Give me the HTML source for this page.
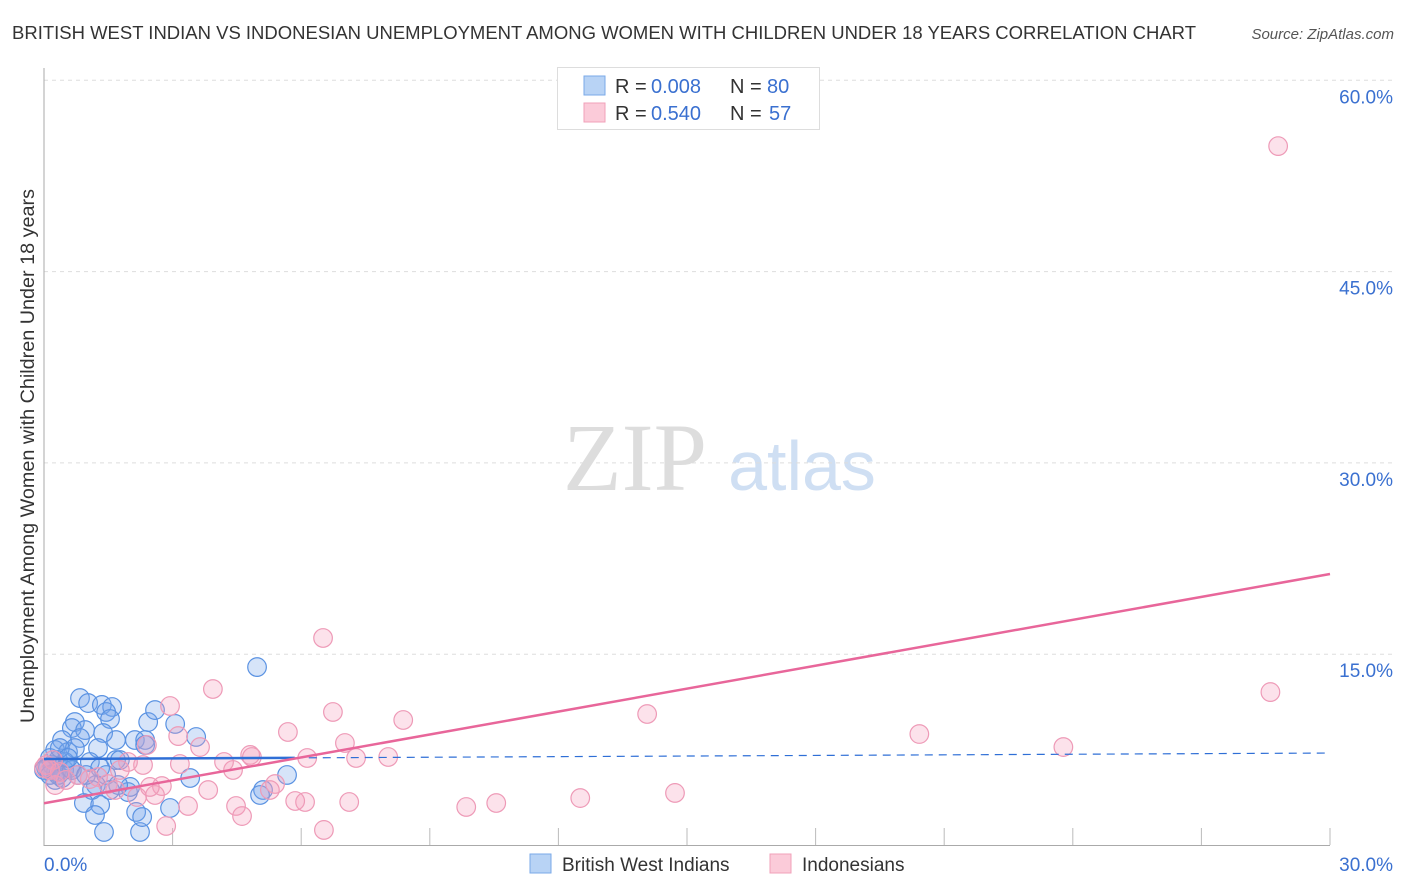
<!DOCTYPE html>
<html><head><meta charset="utf-8"><style>
body{margin:0;background:#fff;font-family:"Liberation Sans",sans-serif;}
svg{display:block}
</style></head><body>
<svg id="chart" width="1406" height="892" xmlns="http://www.w3.org/2000/svg">
<text x="12" y="39" font-size="18.5" fill="#333" textLength="1184" lengthAdjust="spacingAndGlyphs">BRITISH WEST INDIAN VS INDONESIAN UNEMPLOYMENT AMONG WOMEN WITH CHILDREN UNDER 18 YEARS CORRELATION CHART</text>
<text x="1394" y="39" font-size="15" fill="#555" font-style="italic" text-anchor="end">Source: ZipAtlas.com</text>
<text x="34" y="456" font-size="19" fill="#333" text-anchor="middle" textLength="534" lengthAdjust="spacingAndGlyphs" transform="rotate(-90 34 456)">Unemployment Among Women with Children Under 18 years</text>
<g>
<text x="635" y="490" font-size="96" font-family="Liberation Serif,serif" fill="#ddd" text-anchor="middle">ZIP</text>
<text x="802" y="490" font-size="70" fill="#cfdff3" text-anchor="middle">atlas</text>
</g>
<g id="grid"></g><g id="axes"></g><g id="pts"></g><g id="lines"></g>
<g>
<rect x="557.5" y="67.5" width="262" height="62" fill="#fff" stroke="#ddd"/>
<rect x="584" y="76" width="21" height="19" fill="#b8d3f5" stroke="#7aa9e8"/>
<rect x="584" y="103" width="21" height="19" fill="#fbcbd9" stroke="#f0a0b9"/>
<text x="615" y="93" font-size="20" fill="#333">R =</text>
<text x="651" y="93" font-size="20" fill="#3a70d0">0.008</text>
<text x="730" y="93" font-size="20" fill="#333">N =</text>
<text x="767" y="93" font-size="20" fill="#3a70d0">80</text>
<text x="615" y="120" font-size="20" fill="#333">R =</text>
<text x="651" y="120" font-size="20" fill="#3a70d0">0.540</text>
<text x="730" y="120" font-size="20" fill="#333">N =</text>
<text x="769" y="120" font-size="20" fill="#3a70d0">57</text>
</g>
<g>
<rect x="530" y="854" width="21" height="19" fill="#b8d3f5" stroke="#7aa9e8"/>
<text x="562" y="871" font-size="19" fill="#333">British West Indians</text>
<rect x="770" y="854" width="21" height="19" fill="#fbcbd9" stroke="#f0a0b9"/>
<text x="802" y="871" font-size="19" fill="#333">Indonesians</text>
</g>
</svg>
<script>
const yTicks=[15,30,45,60];
const yTickLabels=["15.0%","30.0%","45.0%","60.0%"];
const xEndLabels=["0.0%","30.0%"];
const blueX=[0.84,1.03,1.35,1.59,1.45,1.54,0.72,0.65,0.96,0.84,1.38,1.68,1.26,0.42,0.26,0.56,0.72,0.33,0.09,0.19,0.47,0.61,1.07,1.31,1.68,2.12,2.36,2.43,2.59,3.06,3.55,3.41,1.45,1.21,1.12,0.93,1.31,1.19,1.40,2.24,2.15,2.29,2.94,1.96,2.01,4.97,5.67,5.11,5.04,0.26,0.42,0.79,1.77,0.49,0.14,0.28,0.05,0.37,0,0.33,0.65,0.98,1.54,1.73,2.36,0.14,0.56];
const blueY=[11.56,11.17,11.02,10.86,10.47,9.92,9.68,9.21,9.05,8.43,8.82,8.27,7.64,8.27,7.49,7.33,7.64,6.70,6.08,6.31,5.92,6.08,6.55,6.08,6.70,8.27,8.27,9.68,10.62,9.53,8.51,5.29,5.53,4.74,4.35,3.33,3.18,2.39,1.06,1.06,2.63,2.23,2.94,4.19,4.59,13.99,5.53,4.35,3.96,5.14,5.29,5.53,6.70,6.55,6.86,5.76,6.08,7.64,5.92,5.53,5.92,5.53,4.35,4.74,7.88,5.53,6.86];
const pinkX=[28.79,28.61,23.78,20.42,14.07,14.72,12.51,10.55,9.85,8.38,8.03,7.28,7.02,7.12,6.74,6.51,6.53,6.14,6.09,5.86,5.69,5.39,5.27,4.81,4.85,4.41,4.20,3.94,3.83,3.64,3.13,2.94,3.36,2.85,2.75,2.59,2.31,2.40,2.17,1.96,1.77,1.49,1.66,1.26,1.07,0.79,0.51,0.26,0.37,0.14,0.05,0.21,0,2.47,4.48,4.62,3.17];
const pinkY=[54.84,12.03,7.72,8.74,10.31,4.12,3.72,3.33,3.02,9.84,6.94,6.86,8.04,3.41,10.47,16.27,1.22,6.86,3.41,3.49,8.90,4.82,4.35,7.10,6.94,5.92,6.55,12.27,4.35,7.72,8.58,10.94,3.10,1.53,4.66,3.96,6.31,7.88,3.80,6.55,5.92,4.82,4.35,5.37,5.21,5.53,5.14,4.74,5.76,5.92,6.31,6.70,6.08,4.59,3.10,2.31,6.39];
const blueTrend=[6.78,7.25], pinkTrend=[3.31,21.29], blueSolidEnd=5.85;
const NS="http://www.w3.org/2000/svg";
const X=v=>44+v/30*1286, Y=v=>845.5-v/15*191.3;
function mk(t,a,p){const e=document.createElementNS(NS,t);for(const k in a)e.setAttribute(k,a[k]);document.getElementById(p).appendChild(e);return e;}
yTicks.forEach((t,i)=>{
 const l=mk('line',{x1:44,x2:1394,y1:Y(t),y2:Y(t),stroke:'#ddd','stroke-dasharray':'4,4'},'grid');
 
 
 const tx=mk('text',{x:1393,y:Y(t)+23,'font-size':19,fill:'#3a70d0','text-anchor':'end'},'grid');tx.textContent=yTickLabels[i];
 
 
});
mk('line',{x1:44,x2:44,y1:68,y2:846,stroke:'#aaa'},'axes');
mk('line',{x1:44,x2:1330,y1:845.5,y2:845.5,stroke:'#aaa'},'axes');
for(let i=1;i<=10;i++){const l=mk('line',{x1:X(i*3),x2:X(i*3),y1:828,y2:845,stroke:'#bbb'},'axes');
 
 }
let t0=mk('text',{x:44,y:871,'font-size':19,fill:'#3a70d0'},'axes');t0.textContent=xEndLabels[0];


let t1=mk('text',{x:1393,y:871,'font-size':19,fill:'#3a70d0','text-anchor':'end'},'axes');t1.textContent=xEndLabels[1];


blueX.forEach((x,i)=>{const c=mk('circle',{cx:X(x),cy:Y(blueY[i]),r:9.3,fill:'rgba(120,165,235,0.3)',stroke:'#5a92e2','stroke-width':1.2},'pts');
 
 });
pinkX.forEach((x,i)=>{const c=mk('circle',{cx:X(x),cy:Y(pinkY[i]),r:9.3,fill:'rgba(245,160,190,0.3)',stroke:'#ee9ab7','stroke-width':1.2},'pts');
 
 });
const bAt=x=>blueTrend[0]+(blueTrend[1]-blueTrend[0])*x/30;
let b1=mk('line',{x1:X(0),y1:Y(bAt(0)),x2:X(blueSolidEnd),y2:Y(bAt(blueSolidEnd)),stroke:'#2f6fd6','stroke-width':2.5},'lines');


let b2=mk('line',{x1:X(blueSolidEnd),y1:Y(bAt(blueSolidEnd)),x2:X(30),y2:Y(bAt(30)),stroke:'#2f6fd6','stroke-width':1.2,'stroke-dasharray':'8,6'},'lines');


let p=mk('line',{x1:X(0),y1:Y(pinkTrend[0]),x2:X(30),y2:Y(pinkTrend[1]),stroke:'#e8669a','stroke-width':2.5},'lines');


</script>
</body></html>
